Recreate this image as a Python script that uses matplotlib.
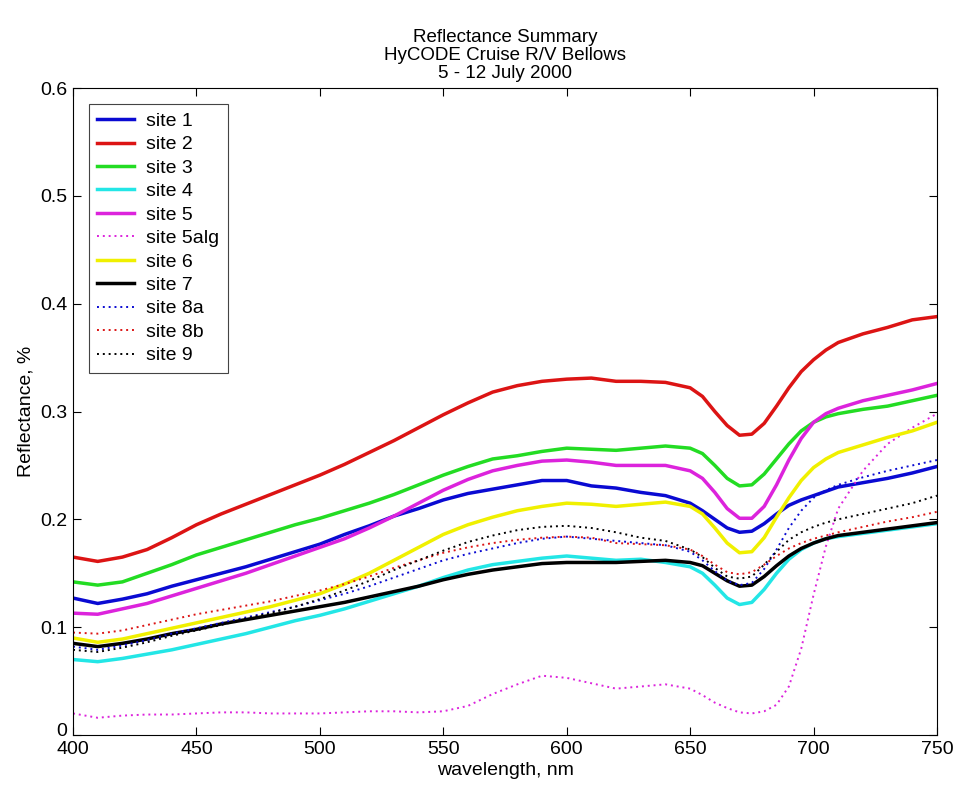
import numpy as np
import matplotlib.pyplot as plt
import matplotlib.transforms as mtransforms

plt.rcParams['font.family'] = ['Liberation Sans', 'DejaVu Sans']

# wavelength grid, nm
wl = [400, 410, 420, 430, 440, 450, 460, 470, 480, 490, 500, 510, 520, 530,
      540, 550, 560, 570, 580, 590, 600, 610, 620, 630, 640, 650, 655, 660,
      665, 670, 675, 680, 685, 690, 695, 700, 705, 710, 720, 730, 740, 750]

site1 = [.127, .122, .126, .131, .138, .144, .150, .156, .163, .170, .177, .186, .194, .203,
         .210, .218, .224, .228, .232, .236, .236, .231, .229, .225, .222, .215, .208, .200,
         .192, .188, .189, .196, .205, .213, .218, .222, .226, .230, .234, .238, .243, .249]
site2 = [.165, .161, .165, .172, .183, .195, .205, .214, .223, .232, .241, .251, .262, .273,
         .285, .297, .308, .318, .324, .328, .330, .331, .328, .328, .327, .322, .314, .300,
         .287, .278, .279, .289, .305, .322, .337, .348, .357, .364, .372, .378, .385, .388]
site3 = [.142, .139, .142, .150, .158, .167, .174, .181, .188, .195, .201, .208, .215, .223,
         .232, .241, .249, .256, .259, .263, .266, .265, .264, .266, .268, .266, .261, .250,
         .238, .231, .232, .242, .256, .270, .282, .290, .295, .298, .302, .305, .310, .315]
site4 = [.070, .068, .071, .075, .079, .084, .089, .094, .100, .106, .111, .117, .124, .131,
         .138, .146, .153, .158, .161, .164, .166, .164, .162, .163, .160, .156, .150, .139,
         .127, .121, .123, .135, .150, .163, .172, .178, .182, .184, .187, .190, .193, .196]
site5 = [.113, .112, .117, .122, .129, .136, .143, .150, .158, .166, .174, .182, .192, .203,
         .215, .227, .237, .245, .250, .254, .255, .253, .250, .250, .250, .245, .238, .225,
         .210, .201, .201, .212, .232, .255, .275, .290, .298, .303, .310, .315, .320, .326]
site5alg = [.020, .016, .018, .019, .019, .020, .021, .021, .020, .020, .020, .021, .022, .022,
            .021, .022, .027, .038, .047, .055, .053, .048, .043, .045, .047, .043, .037, .030,
            .025, .021, .020, .022, .028, .045, .080, .130, .175, .210, .245, .270, .285, .298]
site6 = [.090, .086, .089, .094, .099, .104, .109, .114, .119, .125, .131, .140, .150, .162,
         .174, .186, .195, .202, .208, .212, .215, .214, .212, .214, .216, .212, .205, .192,
         .178, .169, .170, .183, .202, .220, .236, .248, .256, .262, .269, .276, .282, .290]
site7 = [.085, .082, .085, .089, .094, .098, .103, .107, .111, .115, .119, .123, .128, .133,
         .138, .144, .149, .153, .156, .159, .160, .160, .160, .161, .162, .160, .157, .150,
         .143, .138, .139, .147, .157, .166, .173, .178, .182, .185, .188, .191, .194, .197]
site8a = [.082, .079, .083, .088, .094, .099, .104, .109, .114, .119, .125, .131, .138, .146,
          .154, .162, .168, .173, .178, .182, .184, .182, .180, .178, .176, .170, .162, .152,
          .143, .139, .141, .154, .172, .192, .208, .220, .227, .232, .239, .245, .250, .255]
site8b = [.095, .094, .097, .102, .107, .112, .116, .120, .124, .129, .134, .140, .147, .155,
          .162, .169, .174, .178, .181, .183, .184, .183, .178, .177, .176, .172, .166, .158,
          .151, .149, .151, .158, .166, .173, .178, .182, .185, .188, .193, .198, .202, .207]
site9 = [.079, .077, .081, .086, .092, .097, .102, .108, .113, .119, .126, .134, .143, .153,
         .162, .171, .179, .185, .190, .193, .194, .192, .188, .183, .180, .172, .165, .155,
         .147, .145, .147, .158, .170, .181, .188, .193, .197, .200, .205, .210, .215, .222]

labels = ['site 1', 'site 2', 'site 3', 'site 4', 'site 5', 'site 5alg',
          'site 6', 'site 7', 'site 8a', 'site 8b', 'site 9']
series = [site1, site2, site3, site4, site5, site5alg,
          site6, site7, site8a, site8b, site9]
colors = ['#0a0ad2', '#dc1414', '#23dc23', '#23e6e6', '#dc23dc', '#dc23dc',
          '#f0f000', '#000000', '#0a0ad2', '#dc1414', '#000000']
dotted = [False, False, False, False, False, True,
          False, False, True, True, True]

fig = plt.figure(figsize=(9.56, 7.9), dpi=100)
ax = fig.add_axes([0.0764, 0.0696, 0.9037, 0.819])

for y, lab, c, d in zip(series, labels, colors, dotted):
    if d:
        ax.plot(wl, y, color=c, lw=1.4, ls=(0, (1, 2)), label=lab)
    else:
        ax.plot(wl, y, color=c, lw=2.5, label=lab)

ax.set_xlim(400, 750)
ax.set_ylim(0, 0.6)
ax.set_xticks(np.arange(400, 751, 50))
ax.set_yticks(np.arange(0, 0.61, 0.1))
ax.set_yticklabels(['0', '0.1', '0.2', '0.3', '0.4', '0.5', '0.6'])
ax.tick_params(direction='in', top=True, right=True, labelsize=14, length=6, pad=4)
ax.set_xlabel('wavelength, nm', fontsize=14, labelpad=3)
ax.set_ylabel('Reflectance, %', fontsize=14, labelpad=4)
ax.set_title('Reflectance Summary\nHyCODE Cruise R/V Bellows\n5 - 12 July 2000',
             fontsize=13.5, linespacing=1.1, pad=7)

# lift the "0" label a little so it does not run into "400"
lab0 = ax.get_yticklabels()[0]
lab0.set_transform(lab0.get_transform() +
                   mtransforms.ScaledTranslation(0, 4 / 72, fig.dpi_scale_trans))

leg = ax.legend(loc='upper left', fontsize=14, fancybox=False, framealpha=1,
                edgecolor='#444444', borderaxespad=0.8, handlelength=1.9,
                handletextpad=0.6, labelspacing=0.3, borderpad=0.45)
leg.get_frame().set_linewidth(0.8)

fig.savefig('out.png', dpi=100)
